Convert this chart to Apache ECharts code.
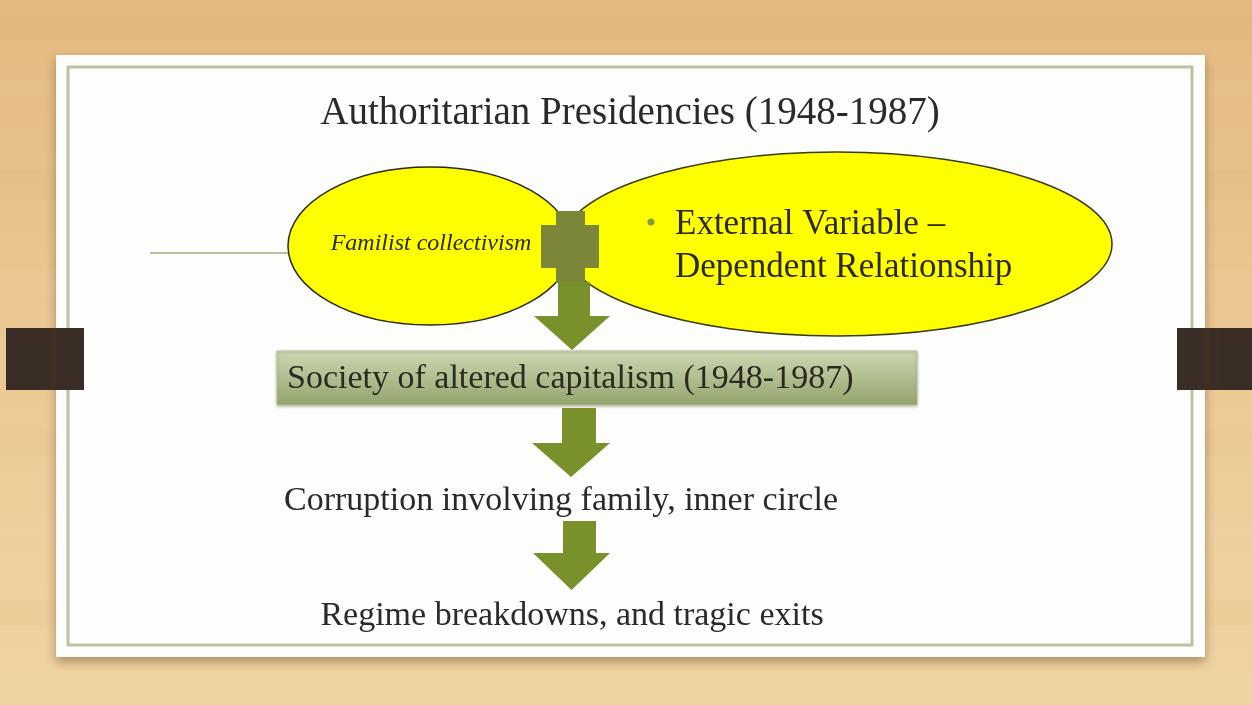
<!DOCTYPE html>
<html>
<head>
<meta charset="utf-8">
<script src="https://cdn.jsdelivr.net/npm/echarts@6/dist/echarts.min.js"></script>
<style>html,body{margin:0;padding:0;}#c{width:1252px;height:705px;}</style>
</head>
<body>
<div id="c"></div>
<script>
const titleText = 'Authoritarian Presidencies (1948-1987)';
const leftNode = 'Familist collectivism';
const rightNodeLines = ['External Variable \u2013', 'Dependent Relationship'];
const flowSteps = ['Society of altered capitalism (1948-1987)', 'Corruption involving family, inner circle', 'Regime breakdowns, and tragic exits'];

const chart = echarts.init(document.getElementById('c'));
const serif = '"Liberation Serif", "DejaVu Serif", serif';
const arrowCol = '#78912a';

function downArrow(x1, x2, yTop, hx1, hx2, yHead, yTip) {
  const cx = (hx1 + hx2) / 2;
  return {
    type: 'polygon',
    shape: { points: [[x1, yTop], [x2, yTop], [x2, yHead], [hx2, yHead], [cx, yTip], [hx1, yHead], [x1, yHead]] },
    style: { fill: arrowCol }
  };
}

const wood = [];
const streaks = [[18,'rgba(200,140,70,0.05)',22],[80,'rgba(255,240,210,0.05)',16],[170,'rgba(210,150,80,0.04)',30],[270,'rgba(255,235,200,0.05)',24],[430,'rgba(210,150,80,0.04)',26],[520,'rgba(255,240,210,0.05)',18],[600,'rgba(205,145,75,0.05)',26],[672,'rgba(255,235,200,0.06)',18]];
streaks.forEach(s => wood.push({ type: 'rect', shape: { x: 0, y: s[0], width: 1252, height: s[2] }, style: { fill: s[1] }, silent: true }));

chart.setOption({
  animation: false,
  graphic: [
    { type: 'rect', shape: { x: 0, y: 0, width: 1252, height: 705 },
      style: { fill: new echarts.graphic.LinearGradient(0, 0, 0, 1, [
        { offset: 0, color: '#e4b97f' }, { offset: 0.5, color: '#ebc995' }, { offset: 1, color: '#f0d3a2' }]) } },
    ...wood,
    // left/right dark tabs
    { type: 'rect', shape: { x: 6, y: 328, width: 78, height: 62 }, style: { fill: '#3a2d25' } },
    { type: 'rect', shape: { x: 1177, y: 328, width: 75, height: 62 }, style: { fill: '#3a2d25' } },
    // card
    { type: 'rect', shape: { x: 56, y: 55, width: 1149, height: 602 },
      style: { fill: '#fdfdfc', shadowBlur: 10, shadowOffsetY: 5, shadowColor: 'rgba(90,60,20,0.45)' } },
    { type: 'rect', shape: { x: 68, y: 67, width: 1124, height: 578 },
      style: { fill: 'none', stroke: '#b9c4a0', lineWidth: 3 } },
    // tab ends over card edge
    { type: 'rect', shape: { x: 56, y: 328, width: 28, height: 62 }, style: { fill: '#3a2d25' } },
    { type: 'rect', shape: { x: 1177, y: 328, width: 28, height: 62 }, style: { fill: '#3a2d25' } },
    // title
    { type: 'text', x: 630, y: 114, style: { text: titleText, font: '39px ' + serif, fill: '#2a2a2a', align: 'center', verticalAlign: 'middle' } },
    // connector line
    { type: 'line', shape: { x1: 150, y1: 253, x2: 290, y2: 253 }, style: { stroke: '#b5c59a', lineWidth: 2 } },
    // ellipses
    { type: 'ellipse', shape: { cx: 430, cy: 246, rx: 142, ry: 79 }, style: { fill: '#ffff00', stroke: '#2a2a10', lineWidth: 1.5 } },
    { type: 'ellipse', shape: { cx: 837, cy: 244, rx: 275, ry: 92 }, style: { fill: '#ffff00', stroke: '#3a3a10', lineWidth: 1.5 } },
    { type: 'text', x: 431, y: 244, style: { text: leftNode, font: 'italic 24px ' + serif, fill: '#2a2a10', align: 'center', verticalAlign: 'middle' } },
    { type: 'circle', shape: { cx: 651, cy: 222, r: 3.5 }, style: { fill: '#8a9a3a' } },
    { type: 'text', x: 675, y: 225, style: { text: rightNodeLines[0], font: '35px ' + serif, fill: '#2a2a10', align: 'left', verticalAlign: 'middle' } },
    { type: 'text', x: 675, y: 268, style: { text: rightNodeLines[1], font: '35px ' + serif, fill: '#2a2a10', align: 'left', verticalAlign: 'middle' } },
    // cross shape
    { type: 'polygon', shape: { points: [[556,211],[585,211],[585,225],[599,225],[599,268],[585,268],[585,283],[556,283],[556,268],[541,268],[541,225],[556,225]] },
      style: { fill: '#7b8638' } },
    downArrow(558, 590, 282, 534, 610, 316, 350),
    // society box
    { type: 'rect', shape: { x: 277, y: 351, width: 640, height: 54 },
      style: { fill: new echarts.graphic.LinearGradient(0, 0, 0, 1, [
        { offset: 0, color: '#cdd8b3' }, { offset: 1, color: '#93a46c' }]), stroke: '#b9c49c', lineWidth: 1,
        shadowBlur: 3, shadowOffsetY: 1, shadowColor: 'rgba(0,0,0,0.25)' } },
    { type: 'text', x: 287, y: 379, style: { text: flowSteps[0], font: '34px ' + serif, fill: '#2a2a20', align: 'left', verticalAlign: 'middle' } },
    downArrow(562, 596, 408, 532, 610, 443, 477),
    { type: 'text', x: 561, y: 501, style: { text: flowSteps[1], font: '34px ' + serif, fill: '#2a2a2a', align: 'center', verticalAlign: 'middle' } },
    downArrow(563, 596, 521, 533, 610, 553, 590),
    { type: 'text', x: 572, y: 616, style: { text: flowSteps[2], font: '34px ' + serif, fill: '#2a2a2a', align: 'center', verticalAlign: 'middle' } }
  ]
});
</script>
</body>
</html>
